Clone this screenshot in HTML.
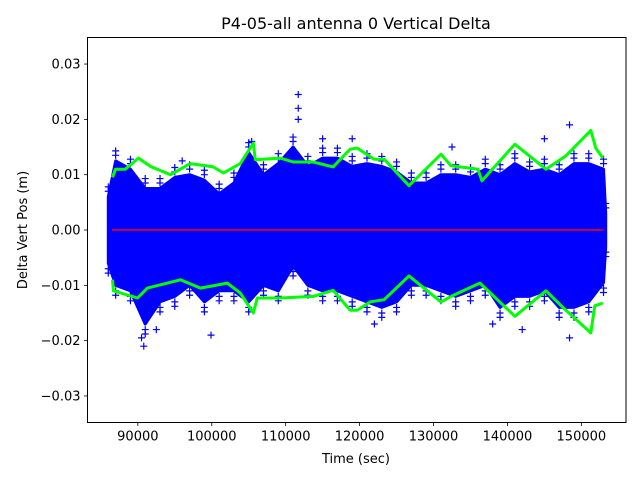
<!DOCTYPE html>
<html><head><meta charset="utf-8"><style>
body{margin:0;background:#fff}
svg{display:block}
text{font-family:"DejaVu Sans","Liberation Sans",sans-serif;fill:#000}
</style></head><body>
<svg id="chart" width="640" height="480" viewBox="0 0 640 480">
<rect width="640" height="480" fill="#fff"/>
<text x="356" y="29" font-size="16" text-anchor="middle">P4-05-all antenna 0 Vertical Delta</text>
<g id="plot"></g>
<rect x="87.5" y="37.5" width="538.5" height="385" fill="none" stroke="#000" stroke-width="1"/>
<g id="xticks"></g>
<g id="yticks"></g>
<text x="356" y="463" font-size="13" text-anchor="middle">Time (sec)</text>
<text x="0" y="0" font-size="13" text-anchor="middle" transform="translate(27,230) rotate(-90)">Delta Vert Pos (m)</text>
</svg>
<script>
const xTicks=[90000,100000,110000,120000,130000,140000,150000];
const yTicks=[0.03,0.02,0.01,0.00,-0.01,-0.02,-0.03];
const yTickLabels=["0.03","0.02","0.01","0.00","\u22120.01","\u22120.02","\u22120.03"];
const blueTimes=[86000,87000,89000,91000,93000,95000,97000,99000,101000,103000,105000,107000,109000,111000,113000,115000,117000,119000,121000,123000,125000,127000,129000,131000,133000,135000,137000,139000,141000,143000,145000,147000,149000,151000,153000,153300];
const blueUpper=[0.006,0.0125,0.011,0.0075,0.0075,0.0095,0.010,0.009,0.0065,0.0085,0.014,0.010,0.012,0.015,0.0115,0.013,0.013,0.0115,0.012,0.0115,0.0105,0.0085,0.0085,0.010,0.010,0.0095,0.011,0.010,0.012,0.0105,0.011,0.010,0.012,0.012,0.011,0.003];
const blueLower=[-0.006,-0.010,-0.011,-0.017,-0.013,-0.012,-0.010,-0.013,-0.011,-0.011,-0.013,-0.010,-0.011,-0.0065,-0.010,-0.011,-0.011,-0.012,-0.013,-0.014,-0.013,-0.010,-0.010,-0.011,-0.012,-0.011,-0.010,-0.014,-0.012,-0.012,-0.011,-0.014,-0.014,-0.013,-0.0095,-0.003];
const outlierTimes=[111700,111700,111700,90800,90500,148400,148400,99900,92500,115000,142000,145000,105400,122000,96000,119000,132500,138000];
const outlierValues=[0.0245,0.022,0.020,-0.021,-0.0195,0.019,-0.0195,-0.019,-0.018,0.0165,-0.018,0.0165,0.016,-0.017,0.0125,0.0165,0.015,-0.017];
const greenTimes=[86570,86970,88320,90080,91700,94400,97100,100210,101570,103860,105620,105890,109270,111020,113720,116420,118720,119670,121960,123310,126690,131010,132360,136010,136550,141010,145200,147900,151280,151960,152900];
const greenUpper=[0.0095,0.011,0.011,0.013,0.0115,0.010,0.012,0.0114,0.0103,0.012,0.0157,0.0127,0.013,0.0123,0.0123,0.0114,0.0146,0.0148,0.0128,0.0128,0.008,0.0137,0.0116,0.011,0.0089,0.0155,0.011,0.0134,0.018,0.0148,0.013];
const greenLowerTimes=[86570,86700,89950,91300,95760,98460,102100,103860,105620,106160,109270,113720,116420,118720,119670,121420,123310,126690,131010,132360,136280,141010,145200,147900,151280,151820,152900];
const greenLower=[-0.009,-0.011,-0.0123,-0.0105,-0.009,-0.0105,-0.0096,-0.0114,-0.015,-0.0123,-0.0123,-0.012,-0.0109,-0.0145,-0.0145,-0.013,-0.0126,-0.0083,-0.013,-0.012,-0.0096,-0.0156,-0.011,-0.0145,-0.0186,-0.0137,-0.0132];
const redStart=86500, redEnd=153000;

const NS="http://www.w3.org/2000/svg";
const X0=87.5,X1=626,Y0=37.5,Y1=422.5;
const tMin=83190,tMax=156040,vMin=-0.0348,vMax=0.0348;
function xs(t){return X0+(t-tMin)/(tMax-tMin)*(X1-X0);}
function ys(v){return Y1-(v-vMin)/(vMax-vMin)*(Y1-Y0);}
function mk(tag,attrs,parent){const e=document.createElementNS(NS,tag);for(const k in attrs)e.setAttribute(k,attrs[k]);parent.appendChild(e);return e;}
const plot=document.getElementById('plot');
const cp=mk('clipPath',{id:'clip'},mk('defs',{},plot));
mk('rect',{x:X0,y:Y0,width:X1-X0,height:Y1-Y0},cp);
const g=mk('g',{'clip-path':'url(#clip)'},plot);

let pts=[];
for(let i=0;i<blueTimes.length;i++)pts.push(xs(blueTimes[i]).toFixed(1)+','+ys(blueUpper[i]).toFixed(1));
for(let i=blueTimes.length-1;i>=0;i--)pts.push(xs(blueTimes[i]).toFixed(1)+','+ys(blueLower[i]).toFixed(1));
const body=mk('polygon',{points:pts.join(' '),fill:'#0000ff',stroke:'#0000ff','stroke-width':'3','stroke-linejoin':'round'},g);



function plus(t,v,name){
  const x=xs(t),y=ys(v);
  const p=mk('path',{d:`M${x-3.5},${y}H${x+3.5}M${x},${y-3.5}V${y+3.5}`,stroke:'#0000ff','stroke-width':'1.2',fill:'none'},g);
  
  
}
for(let i=0;i<blueTimes.length;i++){
  plus(blueTimes[i],blueUpper[i]+0.001,'blue-point');plus(blueTimes[i],blueUpper[i]+0.0018,'blue-point');
  plus(blueTimes[i],blueLower[i]-0.001,'blue-point');plus(blueTimes[i],blueLower[i]-0.0018,'blue-point');
}
for(let i=0;i<outlierTimes.length;i++)plus(outlierTimes[i],outlierValues[i],'outlier-point');

const red=mk('line',{x1:xs(redStart),x2:xs(redEnd),y1:ys(0),y2:ys(0),stroke:'#ff0000','stroke-width':'1.5'},g);



const gu=mk('polyline',{points:greenTimes.map((t,i)=>xs(t).toFixed(1)+','+ys(greenUpper[i]).toFixed(1)).join(' '),fill:'none',stroke:'#00ff00','stroke-width':'3','stroke-linejoin':'round'},g);


const gl=mk('polyline',{points:greenLowerTimes.map((t,i)=>xs(t).toFixed(1)+','+ys(greenLower[i]).toFixed(1)).join(' '),fill:'none',stroke:'#00ff00','stroke-width':'3','stroke-linejoin':'round'},g);



const xg=document.getElementById('xticks');
xTicks.forEach(t=>{
  const x=xs(t);
  const l=mk('line',{x1:x,x2:x,y1:Y1,y2:Y1+3.5,stroke:'#000','stroke-width':'0.8'},xg);
  
  
  const tx=mk('text',{x:x,y:Y1+18,'font-size':'13','text-anchor':'middle'},xg);
  tx.textContent=String(t);
  
  
});
const yg=document.getElementById('yticks');
yTicks.forEach((v,i)=>{
  const y=ys(v);
  const l=mk('line',{x1:X0-3.5,x2:X0,y1:y,y2:y,stroke:'#000','stroke-width':'0.8'},yg);
  
  
  const tx=mk('text',{x:X0-7,y:y+4.5,'font-size':'13','text-anchor':'end'},yg);
  tx.textContent=yTickLabels[i];
  
  
});
</script>
</body></html>
